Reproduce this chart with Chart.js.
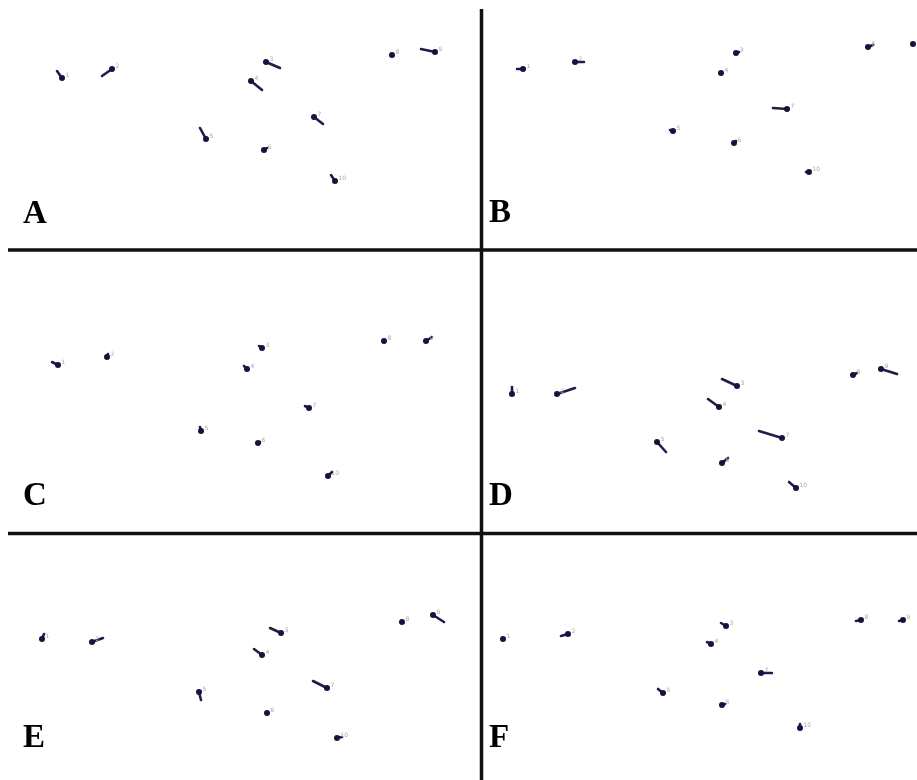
<!DOCTYPE html>
<html>
<head>
<meta charset="utf-8">
<script src="https://cdn.jsdelivr.net/npm/chart.js@4/dist/chart.umd.min.js"></script>
<style>
  html, body { margin: 0; padding: 0; background: #ffffff; }
  #wrap { width: 917px; height: 780px; position: relative; }
</style>
</head>
<body>
<div id="wrap"><canvas id="c" width="917" height="780"></canvas></div>
<script>
// ---- Data (figure coordinates) ----
const landmarkLabels = ['1','2','3','4','5','6','7','8','9','10'];
const panelLetters = ['A','B','C','D','E','F'];

// landmark positions (dot) per panel
const A_dots = [[62,78],[112,69],[266,62],[251,81],[206,139],[264,150],[314,117],[392,55],[435,52],[335,181]];
const B_dots = [[523,69],[575,62],[736,53],[721,73],[673,131],[734,143],[787,109],[868,47],[913,44],[809,172]];
const C_dots = [[58,365],[107,357],[262,348],[247,369],[201,431],[258,443],[309,408],[384,341],[426,341],[328,476]];
const D_dots = [[512,394],[557,394],[737,386],[719,407],[657,442],[722,463],[782,438],[853,375],[881,369],[796,488]];
const E_dots = [[42,639],[92,642],[281,633],[262,655],[199,692],[267,713],[327,688],[402,622],[433,615],[337,738]];
const F_dots = [[503,639],[568,634],[726,626],[711,644],[663,693],[722,705],[761,673],[861,620],[903,620],[800,728]];

// displacement tail end per landmark (null = no visible displacement)
const A_tails = [[57,71],[102,76],[280,68],[262,90],[200,128],[267,148],[323,124],null,[421,49],[331,175]];
const B_tails = [[517,69],[584,62],[739,52],null,[670,130],[736,141],[773,108],[873,45],null,[806,172]];
const C_tails = [[52,362],[108,354],[259,346],[244,366],[200,427],[260,442],[305,406],null,[432,337],[332,472]];
const D_tails = [[512,387],[575,388],[722,379],[708,399],[666,452],[728,458],[759,431],[857,373],[897,374],[789,482]];
const E_tails = [[44,634],[103,638],[270,628],[254,649],[201,700],null,[313,681],null,[444,622],[342,737]];
const F_tails = [null,[561,636],[721,623],[707,642],[658,689],[725,704],[772,673],[856,621],[899,621],[800,724]];

const panels = [
  {dots: A_dots, tails: A_tails},
  {dots: B_dots, tails: B_tails},
  {dots: C_dots, tails: C_tails},
  {dots: D_dots, tails: D_tails},
  {dots: E_dots, tails: E_tails},
  {dots: F_dots, tails: F_tails}
];

// ---- Styling ----
const LINE_COLOR = '#1e1e48';
const DOT_COLOR = '#141440';

const datasets = [];
panels.forEach((p) => {
  const seg = [];
  p.dots.forEach((d, i) => {
    const t = p.tails[i];
    if (t) {
      seg.push({x: d[0], y: d[1]});
      seg.push({x: t[0], y: t[1]});
      seg.push({x: (d[0] + t[0]) / 2, y: null});
    }
  });
  datasets.push({
    type: 'scatter',
    data: seg,
    showLine: true,
    spanGaps: false,
    clip: false,
    borderColor: LINE_COLOR,
    borderWidth: 2.6,
    borderCapStyle: 'round',
    pointRadius: 0,
    pointHoverRadius: 0,
    order: 2
  });
});
panels.forEach((p) => {
  datasets.push({
    type: 'scatter',
    data: p.dots.map((d, i) => ({x: d[0], y: d[1], label: landmarkLabels[i]})),
    pointRadius: 3,
    pointBackgroundColor: DOT_COLOR,
    pointBorderColor: DOT_COLOR,
    pointBorderWidth: 0,
    showLine: false,
    clip: false,
    order: 1,
    isDots: true
  });
});

const framePlugin = {
  id: 'frame',
  beforeDatasetsDraw(chart) {
    const ctx = chart.ctx;
    const xs = chart.scales.x, ys = chart.scales.y;
    ctx.save();
    ctx.strokeStyle = '#111111';
    ctx.lineCap = 'butt';
    ctx.lineWidth = 3.5;
    ctx.beginPath();
    ctx.moveTo(xs.getPixelForValue(8), ys.getPixelForValue(250));
    ctx.lineTo(xs.getPixelForValue(917), ys.getPixelForValue(250));
    ctx.moveTo(xs.getPixelForValue(8), ys.getPixelForValue(533.5));
    ctx.lineTo(xs.getPixelForValue(917), ys.getPixelForValue(533.5));
    ctx.moveTo(xs.getPixelForValue(481.5), ys.getPixelForValue(9));
    ctx.lineTo(xs.getPixelForValue(481.5), ys.getPixelForValue(780));
    ctx.stroke();
    ctx.restore();
  },
  afterDatasetsDraw(chart) {
    const ctx = chart.ctx;
    ctx.save();
    // landmark numbers
    ctx.font = '6px "DejaVu Sans", sans-serif';
    ctx.fillStyle = '#a8a8a8';
    ctx.textBaseline = 'middle';
    chart.data.datasets.forEach((ds, di) => {
      if (!ds.isDots) return;
      const meta = chart.getDatasetMeta(di);
      meta.data.forEach((pt, i) => {
        ctx.fillText(ds.data[i].label, pt.x + 3.5, pt.y - 3);
      });
    });
    // panel letters
    const xs = chart.scales.x, ys = chart.scales.y;
    const letterPos = [[23,223],[489,222],[23,505],[489,505],[23,747],[489,747]];
    ctx.font = 'bold 33px "Liberation Serif", "Times New Roman", serif';
    ctx.fillStyle = '#000000';
    ctx.textBaseline = 'alphabetic';
    panelLetters.forEach((L, i) => {
      ctx.fillText(L, xs.getPixelForValue(letterPos[i][0]), ys.getPixelForValue(letterPos[i][1]));
    });
    ctx.restore();
  }
};

new Chart(document.getElementById('c'), {
  type: 'scatter',
  data: { datasets },
  options: {
    responsive: false,
    animation: false,
    devicePixelRatio: 1,
    layout: { padding: 0, autoPadding: false },
    plugins: { legend: { display: false }, tooltip: { enabled: false } },
    events: [],
    scales: {
      x: { type: 'linear', min: 0, max: 917, display: false },
      y: { type: 'linear', min: 0, max: 780, reverse: true, display: false }
    },
    elements: { line: { tension: 0 } }
  },
  plugins: [framePlugin]
});
</script>
</body>
</html>
